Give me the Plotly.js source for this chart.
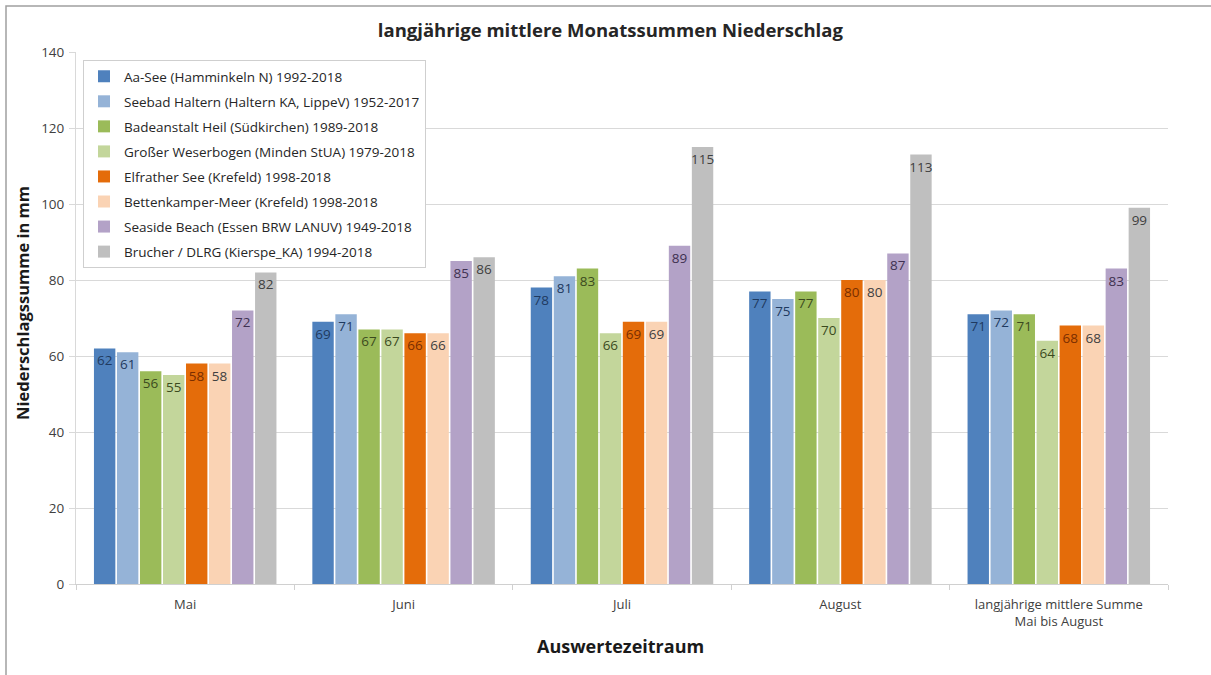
<!DOCTYPE html>
<html>
<head>
<meta charset="utf-8">
<script src="https://cdn.plot.ly/plotly-3.0.1.min.js"></script>
<style>
  html, body { margin: 0; padding: 0; background: #fff; }
  #chart { width: 1211px; height: 675px; }
</style>
</head>
<body>
<div id="chart"></div>
<script>
// Auswertezeiträume (x categories)
const categories = ['Mai', 'Juni', 'Juli', 'August', 'langjährige mittlere Summe<br>Mai bis August'];

// Stationen (series names)
const seriesNames = [
  'Aa-See (Hamminkeln N) 1992-2018',
  'Seebad Haltern (Haltern KA, LippeV) 1952-2017',
  'Badeanstalt Heil (Südkirchen) 1989-2018',
  'Großer Weserbogen (Minden StUA) 1979-2018',
  'Elfrather See (Krefeld) 1998-2018',
  'Bettenkamper-Meer (Krefeld) 1998-2018',
  'Seaside Beach (Essen BRW LANUV) 1949-2018',
  'Brucher / DLRG (Kierspe_KA) 1994-2018'
];

// Niederschlagssummen in mm, one list per station
const aaSee           = [62, 69, 78, 77, 71];
const seebadHaltern   = [61, 71, 81, 75, 72];
const badeanstaltHeil = [56, 67, 83, 77, 71];
const weserbogen      = [55, 67, 66, 70, 64];
const elfratherSee    = [58, 66, 69, 80, 68];
const bettenkamper    = [58, 66, 69, 80, 68];
const seasideBeach    = [72, 85, 89, 87, 83];
const brucher         = [82, 86, 115, 113, 99];

const seriesValues = [aaSee, seebadHaltern, badeanstaltHeil, weserbogen,
                      elfratherSee, bettenkamper, seasideBeach, brucher];

const barColors   = ['#4F81BD', '#95B3D7', '#9BBB59', '#C3D69B', '#E46C0A', '#FAD3B4', '#B3A2C7', '#BFBFBF'];
const labelColors = ['#1F3A60', '#1F3A60', '#3B4A1E', '#3B4A1E', '#7A2E00', '#404040', '#3F3151', '#404040'];

const FONT = 'Open Sans, Lato, sans-serif';

const traces = seriesNames.map((name, i) => ({
  type: 'bar',
  name: name,
  x: categories,
  y: seriesValues[i],
  text: seriesValues[i].map(String),
  textposition: 'inside',
  insidetextanchor: 'end',
  textangle: 0,
  constraintext: 'none',
  textfont: { family: FONT, size: 13.5, color: labelColors[i] },
  marker: { color: barColors[i] },
  legendgroup: 'g' + i,
  hoverinfo: 'x+y+name'
}));

const layout = {
  width: 1211,
  height: 675,
  paper_bgcolor: '#fff',
  plot_bgcolor: '#fff',
  margin: { l: 76, r: 43, t: 52, b: 91, pad: 0 },
  font: { family: FONT, size: 12, color: '#404040' },
  title: {
    text: '<b>langjährige mittlere Monatssummen Niederschlag</b>',
    font: { family: FONT, size: 18.5, color: '#262626' },
    x: 0.504, xref: 'container', xanchor: 'center',
    y: 0.955, yref: 'container', yanchor: 'middle'
  },
  barmode: 'group',
  bargap: 0.157,
  bargroupgap: 0.07,
  xaxis: {
    type: 'category',
    tickfont: { family: FONT, size: 13, color: '#404040' },
    ticklabelstandoff: 8,
    showline: true, linecolor: '#d0d0d0', linewidth: 1,
    ticks: 'outside', tickson: 'boundaries', ticklen: 5, tickcolor: '#d0d0d0',
    showgrid: false,
    automargin: false
  },
  yaxis: {
    range: [0, 140],
    dtick: 20,
    tickfont: { family: FONT, size: 13.5, color: '#404040' },
    ticklabelstandoff: 2,
    showline: true, linecolor: '#d9d9d9', linewidth: 1,
    ticks: 'outside', ticklen: 6, tickcolor: '#d9d9d9',
    gridcolor: '#d9d9d9', gridwidth: 1,
    zeroline: false,
    automargin: false
  },
  annotations: [
    {
      // y axis title
      text: '<b>Niederschlagssumme in mm</b>',
      font: { family: FONT, size: 16.5, color: '#1a1a1a' },
      textangle: -90,
      xref: 'paper', yref: 'paper',
      x: (22 - 76) / 1092, y: (584 - 303) / 532,
      xanchor: 'center', yanchor: 'middle',
      showarrow: false
    },
    {
      // x axis title
      text: '<b>Auswertezeitraum</b>',
      font: { family: FONT, size: 18, color: '#1a1a1a' },
      xref: 'paper', yref: 'paper',
      x: (620 - 76) / 1092, y: (584 - 646) / 532,
      xanchor: 'center', yanchor: 'middle',
      showarrow: false
    }
  ],
  legend: {
    x: 0.0064, y: 0.985, xanchor: 'left', yanchor: 'top',
    bgcolor: '#fff', bordercolor: '#cfcfcf', borderwidth: 1,
    font: { family: FONT, size: 13.5, color: '#262626' },
    traceorder: 'grouped',
    tracegroupgap: 4.5,
    itemwidth: 30
  },
  shapes: [{
    type: 'rect', xref: 'paper', yref: 'paper',
    x0: -0.0641, x1: 1.2, y0: -0.3, y1: 1.0865,
    line: { color: '#a0a0a0', width: 1.5 },
    fillcolor: 'rgba(0,0,0,0)',
    layer: 'below'
  }],
  showlegend: true
};

Plotly.newPlot('chart', traces, layout, { displayModeBar: false, staticPlot: true });
</script>
</body>
</html>
